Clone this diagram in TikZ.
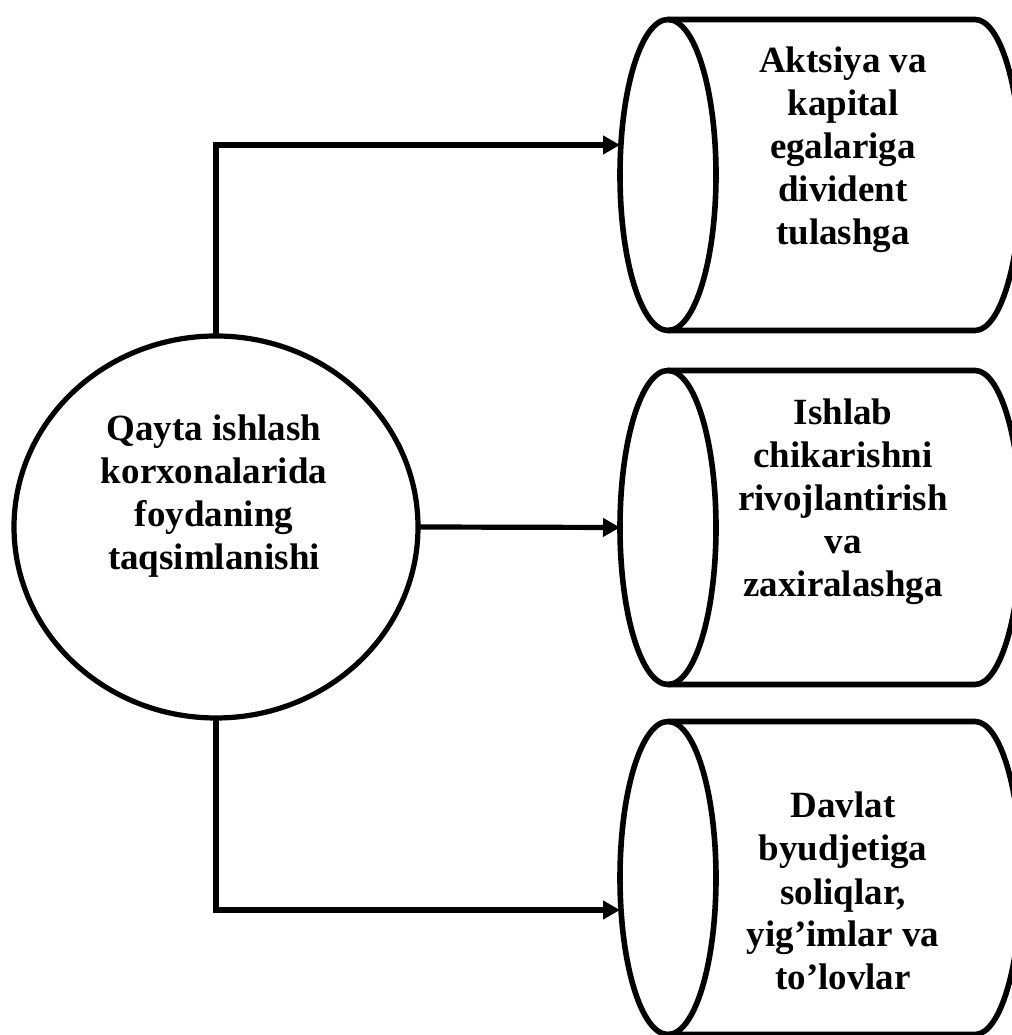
\documentclass[tikz,border=0pt]{standalone}
\usepackage{fontspec}
\setmainfont{Liberation Serif}
\usepackage{tikz}
\usetikzlibrary{shapes.geometric,arrows.meta,positioning,calc}

\begin{document}
\begin{tikzpicture}[
    x=1pt, y=1pt,
    hub/.style={draw, ellipse, line width=5.2pt, inner sep=0pt, outer sep=0pt,
      minimum width=404pt, minimum height=382pt},
    lid/.style={draw, ellipse, line width=5.6pt, inner sep=0pt, outer sep=0pt,
      minimum width=96pt},
    body/.style={line width=5.6pt, line join=round},
    lbl/.style={font=\bfseries\fontsize{37}{43}\selectfont, align=center,
      inner sep=0pt, anchor=base},
    link/.style={->, line width=5.2pt},
    >={Triangle[length=17pt,width=18pt]}
  ]
  \useasboundingbox (0,0) rectangle (1011,1035);

  % centre
  \node[hub] (profit) at (216,508) {};
  \node[lbl] (profittxt) at (214,465) {Qayta ishlash\\korxonalarida\\foydaning\\taqsimlanishi};

  % cylinders
  \node[lid, minimum height=311pt] (divid) at (668,860) {};
  \draw[body] (divid.north) -- ++(307,0)
    arc[start angle=90, end angle=-90, x radius=46pt, y radius=155.5pt] -- (divid.south);
  \node[lbl] (dividtxt) at (843,790) {Aktsiya va\\kapital\\egalariga\\divident\\tulashga};

  \node[lid, minimum height=314pt] (devel) at (668,507.5) {};
  \draw[body] (devel.north) -- ++(307,0)
    arc[start angle=90, end angle=-90, x radius=46pt, y radius=157pt] -- (devel.south);
  \node[lbl] (develtxt) at (843,438) {Ishlab\\chikarishni\\rivojlantirish\\va\\zaxiralashga};

  \node[lid, minimum height=313pt] (budget) at (668,157) {};
  \draw[body] (budget.north) -- ++(307,0)
    arc[start angle=90, end angle=-90, x radius=46pt, y radius=156.5pt] -- (budget.south);
  \node[lbl] (budgettxt) at (843,45) {Davlat\\byudjetiga\\soliqlar,\\yig’imlar va\\to’lovlar};

  % links
  \draw[link] (profit.north) |- ([yshift=30pt]divid.west);
  \draw[link] (profit.east) -- (devel.west);
  \draw[link] (profit.south) |- ([yshift=-32pt]budget.west);
\end{tikzpicture}
\end{document}
